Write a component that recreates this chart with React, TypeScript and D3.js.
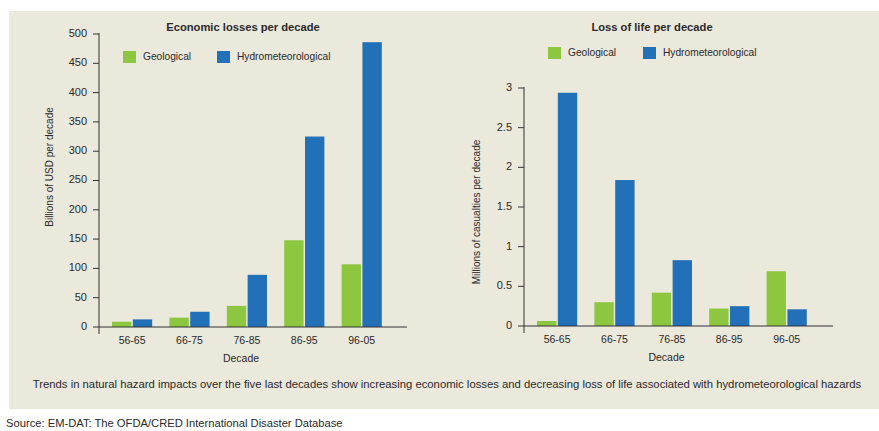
import React from "react";
import * as d3 from "d3";

const decades = ["56-65", "66-75", "76-85", "86-95", "96-05"];
const seriesNames = ["Geological", "Hydrometeorological"];
const econGeo = [9, 16, 36, 148, 107];
const econHydro = [13, 26, 89, 325, 486];
const econTicks = [0, 50, 100, 150, 200, 250, 300, 350, 400, 450, 500];
const lifeGeo = [0.063, 0.3, 0.42, 0.22, 0.69];
const lifeHydro = [2.94, 1.84, 0.83, 0.25, 0.21];
const lifeTicks = [0, 0.5, 1, 1.5, 2, 2.5, 3];

const GREEN = "#8dc63f";
const BLUE = "#2170b8";
const BG = "#ebe8dc";
const AXIS = "#333";
const TXT = "#2a2a2a";
const FONT = "'Liberation Sans', Arial, sans-serif";

type ChartProps = {
  title: string;
  yLabel: string;
  geo: number[];
  hydro: number[];
  ticks: number[];
  yMax: number;
  axisX: number;
  axisEnd: number;
  y0: number;
  yTop: number;
  bandStart: number;
  titleX: number;
  legendX: number;
  legendY: number;
  legend2X: number;
  yLabelX: number;
  yLabelY: number;
};

function Chart(p: ChartProps) {
  const y = d3.scaleLinear().domain([0, p.yMax]).range([p.y0, p.yTop]);
  const step = 57.4;
  const x = d3
    .scaleBand<string>()
    .domain(decades)
    .range([p.bandStart - 0.15 * step, p.bandStart - 0.15 * step + step * 5])
    .paddingInner(0.3)
    .paddingOuter(0.15);
  const inner = d3.scaleBand<number>().domain([0, 1]).range([0, x.bandwidth()]).paddingInner(0.07);
  const fmt = (v: number) => String(v);
  return (
    <g>
      <text x={p.titleX} y={28} textAnchor="middle" dominantBaseline="middle" fontSize={11.2} fontWeight="bold" fill={TXT}>
        {p.title}
      </text>
      {/* legend */}
      <rect x={p.legendX} y={p.legendY - 6} width={13} height={12} fill={GREEN} />
      <text x={p.legendX + 20} y={p.legendY} dominantBaseline="middle" fontSize={10.2} fill={TXT}>
        {seriesNames[0]}
      </text>
      <rect x={p.legend2X} y={p.legendY - 6} width={13} height={12} fill={BLUE} />
      <text x={p.legend2X + 20} y={p.legendY} dominantBaseline="middle" fontSize={10.2} fill={TXT}>
        {seriesNames[1]}
      </text>
      {/* bars */}
      {decades.map((d, i) => (
        <g key={d}>
          <rect x={(x(d) as number) + (inner(0) as number)} y={y(p.geo[i])} width={inner.bandwidth()} height={p.y0 - y(p.geo[i])} fill={GREEN} />
          <rect x={(x(d) as number) + (inner(1) as number)} y={y(p.hydro[i])} width={inner.bandwidth()} height={p.y0 - y(p.hydro[i])} fill={BLUE} />
        </g>
      ))}
      {/* axes */}
      <line x1={p.axisX} x2={p.axisX} y1={p.yTop - 1} y2={p.y0 + 7} stroke={AXIS} strokeWidth={1} />
      <line x1={p.axisX} x2={p.axisEnd} y1={p.y0} y2={p.y0} stroke={AXIS} strokeWidth={1} />
      {p.ticks.map((t) => (
        <g key={t}>
          <line x1={p.axisX - 6} x2={p.axisX} y1={y(t)} y2={y(t)} stroke={AXIS} strokeWidth={1} />
          <text x={p.axisX - 12} y={y(t)} textAnchor="end" dominantBaseline="middle" fontSize={11} fill={TXT}>
            {fmt(t)}
          </text>
        </g>
      ))}
      {decades.map((d) => (
        <text key={d} x={(x(d) as number) + x.bandwidth() / 2} y={p.y0 + 14} textAnchor="middle" dominantBaseline="middle" fontSize={10.5} fill={TXT}>
          {d}
        </text>
      ))}
      <text x={(p.axisX + p.axisEnd) / 2 - 12} y={p.y0 + 32} textAnchor="middle" dominantBaseline="middle" fontSize={10.5} fill={TXT}>
        Decade
      </text>
      <text
        transform={`translate(${p.yLabelX},${p.yLabelY}) rotate(-90)`}
        textAnchor="middle"
        dominantBaseline="middle"
        fontSize={10}
        fill={TXT}
      >
        {p.yLabel}
      </text>
    </g>
  );
}

export default function App() {
  return (
    <svg width={879} height={431} style={{ position: "absolute", left: 0, top: 0, fontFamily: FONT }}>
      <rect x={0} y={0} width={879} height={431} fill="#ffffff" />
      <rect x={9} y={11} width={870} height={398} fill={BG} />
      <Chart
        title="Economic losses per decade"
        yLabel="Billions of USD per decade"
        geo={econGeo}
        hydro={econHydro}
        ticks={econTicks}
        yMax={500}
        axisX={99}
        axisEnd={407}
        y0={327}
        yTop={34}
        bandStart={112}
        titleX={243}
        legendX={123}
        legendY={57}
        legend2X={217}
        yLabelX={50}
        yLabelY={167}
      />
      <Chart
        title="Loss of life per decade"
        yLabel="Millions of casualties per decade"
        geo={lifeGeo}
        hydro={lifeHydro}
        ticks={lifeTicks}
        yMax={3}
        axisX={524}
        axisEnd={833}
        y0={326}
        yTop={88}
        bandStart={537}
        titleX={652}
        legendX={548}
        legendY={53}
        legend2X={643}
        yLabelX={477}
        yLabelY={212}
      />
      <text x={447} y={385} textAnchor="middle" dominantBaseline="middle" fontSize={11.3} fill={TXT}>
        Trends in natural hazard impacts over the five last decades show increasing economic losses and decreasing loss of life associated with hydrometeorological hazards
      </text>
      <text x={6} y={424} dominantBaseline="middle" fontSize={11.2} fill={TXT}>
        Source: EM-DAT: The OFDA/CRED International Disaster Database
      </text>
    </svg>
  );
}
